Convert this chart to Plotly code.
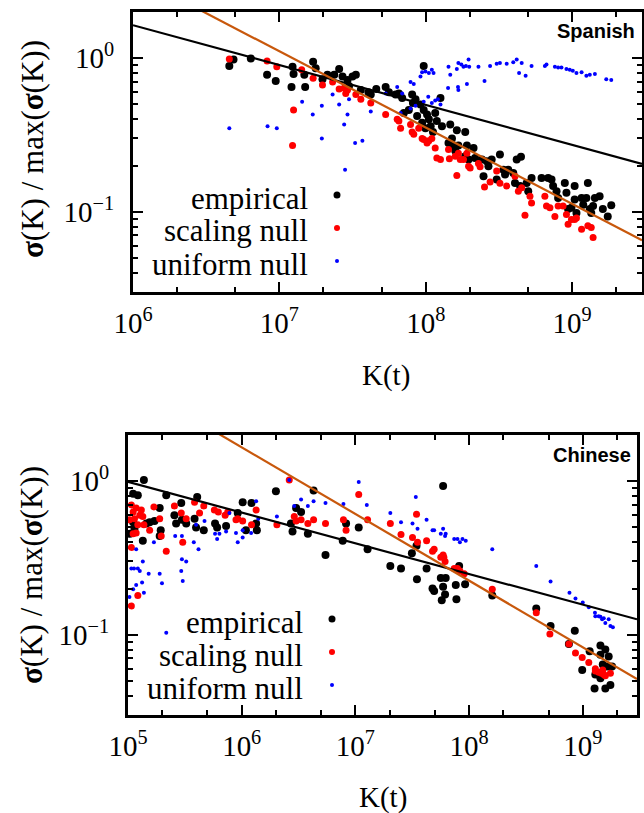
import plotly.graph_objects as go

# ---------------- Spanish (top panel) ----------------
sp_emp_K = [4.55e6, 4.86e6, 6.38e6, 8.24e6, 9.44e6, 1.21e7, 1.23e7, 1.25e7,
            1.48e7, 1.50e7, 1.70e7, 1.77e7, 1.97e7, 2.13e7, 2.37e7, 2.56e7,
            2.70e7, 2.92e7, 2.99e7, 3.16e7, 3.33e7, 3.60e7, 4.06e7, 4.21e7, 4.59e7,
            5.32e7, 5.60e7, 6.22e7, 6.55e7, 6.90e7, 7.08e7, 7.66e7, 8.07e7, 8.17e7,
            8.51e7, 8.73e7, 9.44e7, 9.68e7, 9.68e7, 9.95e7, 1.05e8, 1.08e8, 1.12e8,
            1.16e8, 1.26e8, 1.29e8, 1.47e8, 1.43e8, 1.55e8, 1.59e8, 1.63e8, 9.2e7,
            1.02e8, 1.19e8,
            1.51e8, 1.67e8, 1.86e8, 1.91e8, 2.12e8, 1.86e8, 1.96e8, 2.17e8, 2.42e8,
            2.48e8, 2.61e8, 2.68e8, 2.82e8, 3.05e8, 3.21e8, 3.39e8, 3.48e8, 3.66e8,
            3.96e8, 4.07e8, 4.18e8, 4.47e8, 4.41e8, 4.89e8, 5.01e8, 5.28e8, 6.18e8,
            6.86e8, 7.23e8, 7.41e8, 7.82e8, 8.02e8, 8.91e8, 9.14e8, 9.38e8, 9.89e8,
            1.04e9, 1.04e9, 1.07e9, 1.16e9, 1.19e9, 1.25e9, 1.28e9, 1.32e9, 1.35e9,
            1.39e9, 1.43e9, 1.54e9, 1.62e9, 1.75e9, 1.85e9]
sp_emp_s = [0.89, 0.98, 0.995, 0.78, 0.71, 0.65, 0.88, 0.79,
            0.78, 0.65, 0.95, 0.86, 0.73, 0.78, 0.78, 0.85,
            0.76, 0.72, 0.66, 0.76, 0.78, 0.62, 0.60, 0.58, 0.63,
            0.65, 0.60, 0.58, 0.59, 0.55, 0.44, 0.46, 0.58, 0.51,
            0.54, 0.42, 0.38, 0.89, 0.46, 0.35, 0.40, 0.36, 0.33,
            0.44, 0.55, 0.36, 0.37, 0.28, 0.27, 0.25, 0.34, 0.50,
            0.43, 0.39,
            0.30, 0.27, 0.33, 0.27, 0.26, 0.23, 0.219, 0.224, 0.219,
            0.170, 0.213, 0.198, 0.219, 0.162, 0.236, 0.188, 0.175, 0.188,
            0.179, 0.154, 0.219, 0.228, 0.147, 0.154, 0.136, 0.166, 0.166,
            0.166, 0.162, 0.147, 0.136, 0.123, 0.154, 0.133, 0.104, 0.106,
            0.120, 0.147, 0.098, 0.123, 0.111, 0.123, 0.154, 0.104, 0.098,
            0.109, 0.123, 0.126, 0.104, 0.093, 0.110]

sp_scal_K = [4.55e6, 8.24e6, 9.6e6, 1.25e7, 1.23e7, 1.42e7, 1.70e7, 1.97e7,
             2.31e7, 2.56e7, 2.77e7, 2.84e7, 2.92e7, 3.33e7, 3.60e7, 4.21e7, 5.32e7,
             6.38e7, 6.55e7, 6.73e7, 7.87e7, 8.07e7, 8.28e7, 8.95e7, 9.44e7, 9.68e7,
             1.02e8, 1.05e8, 1.10e8, 1.16e8, 1.19e8, 1.26e8, 1.43e8, 1.45e8, 1.59e8,
             1.63e8,
             1.67e8, 1.72e8, 1.81e8, 1.91e8, 1.96e8, 2.01e8, 2.29e8, 2.35e8, 3.05e8,
             2.52e8, 2.75e8, 3.21e8, 3.57e8, 4.07e8, 4.29e8, 4.52e8, 5.15e8, 5.28e8,
             4.76e8, 6.51e8, 6.68e8, 7.05e8, 7.62e8, 8.02e8, 8.67e8, 9.14e8, 9.38e8,
             9.89e8, 1.04e9, 1.07e9, 1.16e9, 1.28e9, 1.35e9, 1.39e9]
sp_scal_s = [0.99, 0.96, 0.88, 0.46, 0.27, 0.84, 0.74, 0.67,
             0.70, 0.63, 0.64, 0.59, 0.62, 0.58, 0.54, 0.51, 0.43,
             0.40, 0.39, 0.35, 0.37, 0.33, 0.32, 0.35, 0.30, 0.295,
             0.28, 0.29, 0.30, 0.26, 0.224, 0.219, 0.254, 0.221, 0.23,
             0.172,
             0.24, 0.219, 0.219, 0.24, 0.198, 0.193, 0.206, 0.196, 0.184,
             0.145, 0.156, 0.153, 0.147, 0.170, 0.136, 0.143, 0.126, 0.114,
             0.095, 0.126, 0.109, 0.106, 0.093, 0.109, 0.109, 0.096, 0.083,
             0.089, 0.089, 0.091, 0.077, 0.081, 0.079, 0.068]

sp_unif_K = [4.55e6, 8.3e6, 9.6e6, 1.43e7, 1.69e7, 1.95e7, 1.95e7, 2.31e7, 2.56e7,
             2.77e7, 2.81e7, 2.92e7, 2.99e7, 3.29e7, 3.69e7, 4.21e7, 5.32e7, 6.38e7,
             6.90e7, 7.87e7, 8.28e7, 9.2e7, 9.44e7, 9.95e7, 1.05e8, 1.10e8, 1.13e8,
             6.73e7, 7.87e7, 8.51e7, 9.68e7, 1.04e8, 1.10e8, 1.16e8, 1.21e8, 1.26e8,
             1.43e8, 1.47e8, 1.63e8, 1.67e8, 1.42e8,
             1.75e8, 1.81e8, 1.88e8, 1.96e8, 1.98e8, 1.66e8, 1.67e8, 1.91e8, 2.29e8,
             2.52e8, 2.75e8, 3.05e8, 3.21e8, 3.57e8, 3.96e8, 4.18e8, 4.34e8, 4.52e8,
             4.81e8, 5.28e8, 6.51e8, 6.68e8, 7.62e8, 8.02e8, 8.45e8, 9.14e8, 9.63e8,
             1.01e9, 1.07e9, 1.16e9, 1.25e9, 1.32e9, 1.43e9, 1.71e9, 1.85e9]
sp_unif_s = [0.35, 0.36, 0.35, 0.52, 0.43, 0.49, 0.30, 0.58, 0.50,
             0.37, 0.188, 0.43, 0.54, 0.28, 0.29, 0.45, 0.59, 0.65,
             0.59, 0.70, 0.68, 0.76, 0.81, 0.82, 0.80, 0.84, 0.80,
             0.44, 0.47, 0.49, 0.52, 0.56, 0.51, 0.53, 0.54, 0.50,
             0.88, 0.78, 0.85, 0.93, 0.64,
             0.91, 0.88, 0.89, 0.98, 0.88, 0.65, 0.62, 0.68, 0.88,
             0.71, 0.89, 0.92, 0.93, 0.92, 0.94, 0.98, 0.80, 0.93,
             0.77, 0.89, 0.89, 0.91, 0.88, 0.87, 0.87, 0.85, 0.84,
             0.83, 0.80, 0.81, 0.77, 0.78, 0.79, 0.73, 0.72]

sp_fit_K = [1e6, 3e9]
sp_emp_fit = [1.64, 0.205]
sp_scal_fit = [3.48, 0.0652]

# ---------------- Chinese (bottom panel) ----------------
zh_emp_K = [1.11e5, 1.22e5, 1.38e5, 2.17e5, 4.06e5, 1.02e6, 1.22e6, 2.0e6,
            1.11e5, 1.14e5, 1.35e5, 1.45e5, 1.55e5, 1.71e5, 1.90e5, 1.90e5, 1.94e5,
            2.56e5, 2.65e5, 2.94e5, 2.98e5, 3.25e5, 3.85e5, 3.97e5, 4.64e5, 5.83e5,
            6.08e5, 7.29e5, 9.23e5, 1.09e6, 1.34e6, 1.36e6, 2.71e6, 2.80e6, 1.04e5,
            3.01e6, 3.33e6, 3.82e6, 4.29e6, 5.46e6, 7.74e6, 8.28e6, 1.07e7, 1.28e7,
            2.03e7, 2.52e7, 3.14e7, 3.45e7, 3.48e7, 4.23e7, 4.77e7, 4.93e7, 5.64e7,
            5.91e7, 5.75e7, 6.23e7, 6.15e7, 5.91e7,
            7.64e7, 8.18e7, 7.74e7, 9.23e7, 1.60e8, 3.90e8, 5.21e8, 8.51e8, 7.55e8,
            9.89e8, 1.15e9, 1.43e9, 1.43e9, 1.58e9, 1.69e9, 1.50e9, 1.64e9, 1.81e9,
            1.29e9, 1.43e9, 1.27e9, 1.75e9, 1.58e9]
zh_emp_s = [0.83, 0.81, 1.02, 0.81, 0.79, 0.73, 0.72, 0.86,
            0.54, 0.49, 0.41, 0.53, 0.54, 0.55, 0.67, 0.44, 0.48,
            0.60, 0.53, 0.72, 0.56, 0.53, 0.57, 0.50, 0.48, 0.53,
            0.50, 0.51, 0.62, 0.48, 0.53, 0.48, 0.53, 0.47, 0.455,
            0.67, 0.63, 0.455, 0.87, 0.33, 0.41, 0.53, 0.50, 0.36,
            0.28, 0.27, 0.34, 0.38, 0.23, 0.27, 0.20, 0.193, 0.234,
            0.205, 0.168, 0.234, 0.183, 0.93,
            0.211, 0.28, 0.170, 0.213, 0.18, 0.148, 0.114, 0.106, 0.087,
            0.059, 0.078, 0.085, 0.074, 0.080, 0.072, 0.064, 0.062, 0.062,
            0.055, 0.052, 0.0446, 0.047, 0.0446]

zh_scal_K = [1.07e5, 1.18e5, 1.31e5, 1.14e5, 1.03e5, 1.35e5, 1.22e5, 1.38e5, 1.18e5,
             1.11e5, 1.55e5, 1.69e5, 1.90e5, 1.96e5, 2.17e5, 2.56e5, 2.94e5, 3.03e5,
             3.25e5, 3.85e5, 4.26e5, 4.64e5, 5.75e5, 6.23e5, 7.15e5, 7.54e5, 8.91e5,
             9.23e5, 1.02e6, 1.22e6, 1.34e6, 2.04e6, 2.62e6, 2.90e6, 1.07e5, 1.22e5,
             1.07e5, 1.11e5, 1.27e5,
             3.01e6, 3.33e6, 3.82e6, 4.29e6, 5.46e6, 7.85e6, 8.28e6, 1.07e7, 1.28e7,
             2.03e7, 2.52e7, 3.18e7, 3.45e7, 3.52e7, 4.23e7, 4.77e7, 4.93e7, 5.64e7,
             5.91e7, 6.15e7, 6.0e7,
             7.40e7, 7.91e7, 8.30e7, 9.06e7, 1.60e8, 3.90e8, 5.14e8, 7.55e8, 8.63e8,
             9.89e8, 1.13e9, 1.29e9, 1.29e9, 1.38e9, 1.46e9, 1.53e9, 1.58e9, 1.75e9,
             1.50e9]
zh_scal_s = [0.70, 0.67, 0.65, 0.57, 0.56, 0.59, 0.52, 0.52, 0.46,
             0.455, 0.48, 0.68, 0.57, 0.44, 0.35, 0.69, 0.62, 0.40,
             0.57, 0.73, 0.62, 0.69, 0.65, 0.63, 0.60, 0.63, 0.56,
             0.57, 0.55, 0.52, 0.65, 0.52, 1.02, 0.59, 0.37, 0.18,
             0.154, 0.63, 0.60,
             0.55, 0.56, 0.53, 0.56, 0.53, 0.56, 0.48, 0.82, 0.56,
             0.53, 0.45, 0.43, 0.61, 0.40, 0.41, 0.35, 0.36, 0.32,
             0.33, 0.30, 0.32,
             0.27, 0.27, 0.26, 0.25, 0.198, 0.139, 0.101, 0.087, 0.076,
             0.071, 0.066, 0.060, 0.058, 0.057, 0.056, 0.055, 0.054, 0.056,
             0.059]

zh_unif_K = [1.18e5, 1.07e5, 1.13e5, 1.22e5, 1.27e5, 1.35e5, 1.33e5, 1.18e5, 1.11e5,
             1.03e5, 1.38e5, 1.52e5, 1.69e5, 1.90e5, 1.99e5, 2.17e5, 2.60e5, 2.98e5,
             3.25e5, 2.94e5, 3.03e5, 2.98e5, 3.79e5, 4.17e5, 3.97e5, 4.71e5, 5.83e5,
             6.08e5, 6.37e5, 7.29e5, 7.80e5, 8.91e5, 9.23e5, 1.02e6, 1.02e6, 1.21e6,
             1.34e6, 1.40e6, 2.04e6, 2.62e6, 2.90e6,
             3.33e6, 3.82e6, 4.29e6, 5.46e6, 7.85e6, 1.07e7, 1.26e7, 2.03e7, 2.52e7,
             3.18e7, 3.40e7, 3.52e7, 4.23e7, 4.77e7, 4.93e7, 5.64e7, 5.91e7, 6.15e7,
             6.23e7,
             7.40e7, 7.91e7, 8.30e7, 8.75e7, 9.35e7, 1.60e8, 3.90e8, 5.21e8, 7.64e8,
             8.63e8, 1.00e9, 1.13e9, 1.28e9, 1.29e9, 1.38e9, 1.43e9, 1.48e9, 1.53e9,
             1.58e9, 1.69e9, 1.75e9, 1.84e9]
zh_unif_s = [0.36, 0.27, 0.27, 0.27, 0.26, 0.30, 0.219, 0.211, 0.198,
             0.176, 0.188, 0.25, 0.40, 0.25, 0.216, 0.103, 0.44, 0.31,
             0.30, 0.26, 0.224, 0.44, 0.40, 0.36, 0.52, 0.55, 0.455,
             0.42, 0.455, 0.47, 0.62, 0.46, 0.40, 0.43, 0.48, 0.46,
             0.74, 0.57, 0.59, 1.02, 0.69,
             0.76, 0.69, 0.74, 0.72, 0.71, 0.99, 0.70, 0.62, 0.54,
             0.53, 0.79, 0.49, 0.56, 0.48, 0.48, 0.455, 0.49, 0.44,
             0.455,
             0.42, 0.42, 0.40, 0.42, 0.41, 0.36, 0.28, 0.222, 0.188,
             0.172, 0.162, 0.151, 0.139, 0.132, 0.132, 0.131, 0.126, 0.128,
             0.119, 0.126, 0.114, 0.112]

zh_fit_K = [1e5, 3e9]
zh_emp_fit = [0.99, 0.126]
zh_scal_fit = [4.52, 0.0514]

# ---------------- labels ----------------
series_names = ["empirical", "scaling null", "uniform null"]
series_colors = ["#000000", "#ff0000", "#0000ff"]
panel_names = ["Spanish", "Chinese"]
x_title = "K(t)"
y_title = "<b>σ</b>(K) / max(<b>σ</b>(K))"
sp_xticks = [1e6, 1e7, 1e8, 1e9]
sp_xtext = ["10<sup>6</sup>", "10<sup>7</sup>", "10<sup>8</sup>", "10<sup>9</sup>"]
zh_xticks = [1e5, 1e6, 1e7, 1e8, 1e9]
zh_xtext = ["10<sup>5</sup>", "10<sup>6</sup>", "10<sup>7</sup>", "10<sup>8</sup>", "10<sup>9</sup>"]
yticks = [0.1, 1.0]
ytext = ["10<sup>−1</sup>", "10<sup>0</sup>"]

FIT_ORANGE = "#c8580c"
SERIF = "Liberation Serif"
W, H = 644, 813

fig = go.Figure()

marker_sizes = [8, 7, 4]

def add_panel(xa, ya, Ks, Ss, fitK, fit_e, fit_s):
    for K, S, col, sz in zip(Ks, Ss, series_colors, marker_sizes):
        fig.add_trace(go.Scatter(x=K, y=S, mode="markers", xaxis=xa, yaxis=ya,
                                 marker=dict(color=col, size=sz, line=dict(width=0)),
                                 showlegend=False, hoverinfo="skip"))
    fig.add_trace(go.Scatter(x=fitK, y=fit_e, mode="lines", xaxis=xa, yaxis=ya,
                             line=dict(color="black", width=2.2), showlegend=False))
    fig.add_trace(go.Scatter(x=fitK, y=fit_s, mode="lines", xaxis=xa, yaxis=ya,
                             line=dict(color=FIT_ORANGE, width=2.2), showlegend=False))

add_panel("x", "y", [sp_emp_K, sp_scal_K, sp_unif_K], [sp_emp_s, sp_scal_s, sp_unif_s],
          sp_fit_K, sp_emp_fit, sp_scal_fit)
add_panel("x2", "y2", [zh_emp_K, zh_scal_K, zh_unif_K], [zh_emp_s, zh_scal_s, zh_unif_s],
          zh_fit_K, zh_emp_fit, zh_scal_fit)

tickfont = dict(family=SERIF, size=29, color="black")

def xaxis(domain, rng, tv, tt, anchor):
    return dict(type="log", domain=domain, range=rng, anchor=anchor, automargin=False,
                tickmode="array", tickvals=tv, ticktext=tt, tickfont=tickfont,
                ticks="inside", ticklen=10, tickwidth=2, tickcolor="black",
                minor=dict(tickmode="linear", ticks="inside", ticklen=5, tickwidth=2,
                           tickcolor="black", dtick="D2", showgrid=False),
                showline=True, linewidth=3, linecolor="black", mirror="allticks",
                showgrid=False, zeroline=False, ticklabelstandoff=3)

def yaxis(domain, anchor):
    return dict(type="log", domain=domain, range=[-1.523, 0.301], anchor=anchor, automargin=False,
                tickmode="array", tickvals=yticks, ticktext=ytext, tickfont=tickfont,
                ticks="inside", ticklen=10, tickwidth=2, tickcolor="black",
                minor=dict(tickmode="linear", ticks="inside", ticklen=5, tickwidth=2,
                           tickcolor="black", dtick="D1", showgrid=False),
                showline=True, linewidth=3, linecolor="black", mirror="allticks",
                showgrid=False, zeroline=False, ticklabelstandoff=10)

fig.update_layout(
    width=W, height=H, autosize=False,
    margin=dict(l=0, r=0, t=0, b=0, pad=0, autoexpand=False),
    paper_bgcolor="white", plot_bgcolor="white", showlegend=False,
    xaxis=xaxis([133 / W, 642 / W], [6, 9.4771], sp_xticks, sp_xtext, "y"),
    yaxis=yaxis([1 - 292 / H, 1 - 12 / H], "x"),
    xaxis2=xaxis([128 / W, 637 / W], [5, 9.4771], zh_xticks, zh_xtext, "y2"),
    yaxis2=yaxis([1 - 715 / H, 1 - 435 / H], "x2"),
)

ann = []
shapes = []
# panel labels
ann.append(dict(text="<b>%s</b>" % panel_names[0], x=637 / W, y=1 - 31 / H, xref="paper", yref="paper",
                xanchor="right", yanchor="middle", showarrow=False,
                font=dict(family="Liberation Sans", size=20, color="black")))
ann.append(dict(text="<b>%s</b>" % panel_names[1], x=633 / W, y=1 - 455 / H, xref="paper", yref="paper",
                xanchor="right", yanchor="middle", showarrow=False,
                font=dict(family="Liberation Sans", size=20, color="black")))
# axis titles
for xc, yc in [(386, 376), (383, 797)]:
    ann.append(dict(text=x_title, x=xc / W, y=1 - yc / H, xref="paper", yref="paper",
                    xanchor="center", yanchor="middle", showarrow=False,
                    font=dict(family=SERIF, size=29, color="black")))
for xc, yc in [(33, 149), (31, 575)]:
    ann.append(dict(text=y_title, x=xc / W, y=1 - yc / H, xref="paper", yref="paper",
                    xanchor="center", yanchor="middle", showarrow=False, textangle=-90,
                    font=dict(family=SERIF, size=31, color="black")))
# legends
legend_marker_r = [3.5, 3, 2]
for tx, mx, ys in [(310, 337, [195, 228, 261]), (305, 332, [619, 652, 685])]:
    for name, col, r, yy in zip(series_names, series_colors, legend_marker_r, ys):
        ann.append(dict(text=name, x=tx / W, y=1 - (yy + 3) / H, xref="paper", yref="paper",
                        xanchor="right", yanchor="middle", showarrow=False,
                        font=dict(family=SERIF, size=31, color="black")))
        shapes.append(dict(type="circle", xref="paper", yref="paper",
                           xsizemode="pixel", ysizemode="pixel",
                           xanchor=mx / W, yanchor=1 - yy / H,
                           x0=-r, x1=r, y0=-r, y1=r,
                           fillcolor=col, line=dict(width=0)))
fig.update_layout(annotations=ann, shapes=shapes)

fig.write_html("out.html", config={"displayModeBar": False},
               post_script="document.body.style.margin='0';document.body.style.overflow='hidden';")
